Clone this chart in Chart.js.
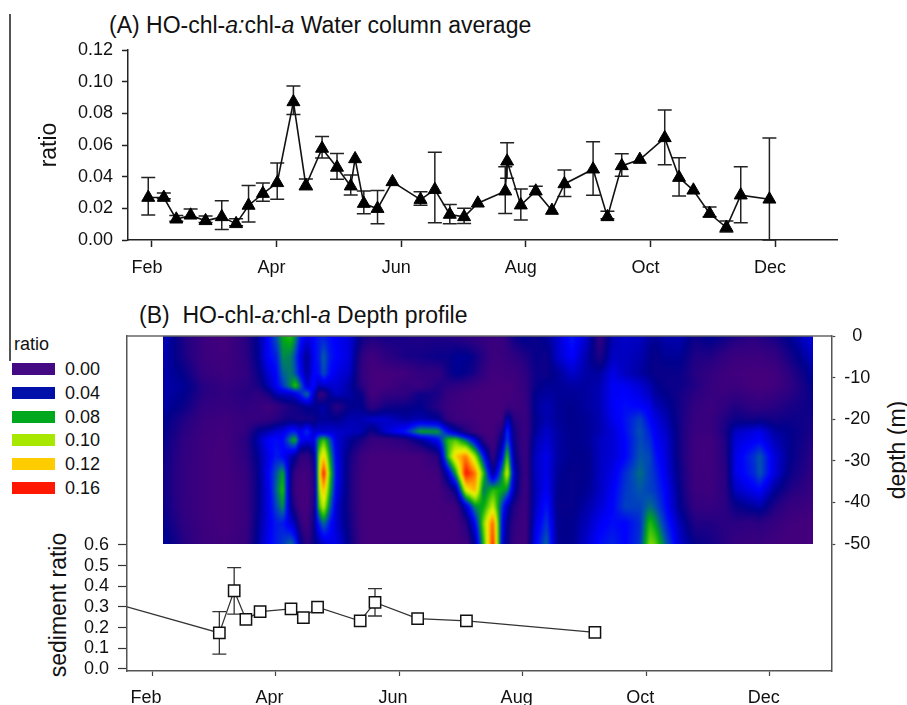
<!DOCTYPE html>
<html>
<head>
<meta charset="utf-8">
<script src="https://cdn.jsdelivr.net/npm/chart.js@4"></script>
<style>
  html, body { margin: 0; padding: 0; background: #fff; }
  body { position: relative; width: 907px; height: 705px; overflow: hidden; font-family: "Liberation Sans", Arial, sans-serif; color: #111; }
  canvas { position: absolute; left: 0; }
  .txt { position: absolute; white-space: pre; }
  .panel-title { font-size: 23px; line-height: 26px; }
  .side { text-align: center; font-size: 23px; line-height: 26px; transform: rotate(-90deg); }
  #rule { position: absolute; left: 9px; top: 14px; width: 1.5px; height: 347px; background: #555; }
  .swatch { position: absolute; left: 12px; width: 43px; height: 12px; }
  .key { position: absolute; left: 65px; font-size: 18px; line-height: 20px; }
</style>
</head>
<body>
<div id="rule"></div>
<div class="txt panel-title" style="left:109px;top:12px">(A) HO-chl-<i>a:</i>chl-<i>a</i> Water column average</div>
<div class="txt panel-title" style="left:139px;top:302px">(B)  HO-chl-<i>a:</i>chl-<i>a</i> Depth profile</div>
<div class="txt" style="left:14px;top:334px;font-size:18px;line-height:20px">ratio</div>
<div class="txt side" style="left:847px;top:437px;width:100px">depth (m)</div>
<div class="txt side" style="left:-17px;top:592px;width:150px">sediment ratio</div>
<div id="legend"></div>
<canvas id="waterChart" width="907" height="300" style="top:0"></canvas>
<canvas id="depthChart" width="907" height="405" style="top:300px"></canvas>

<script>
// month number on x axis (2 = Feb, 4 = Apr ...)
var monthTicks = [2, 4, 6, 8, 10, 12];
var monthNames = ['Feb', 'Apr', 'Jun', 'Aug', 'Oct', 'Dec'];

// panel A: water column average
var waterMonths = [1.94, 2.19, 2.39, 2.62, 2.86, 3.12, 3.35, 3.55, 3.78, 4.01, 4.27, 4.47, 4.73, 4.97, 5.19, 5.26, 5.40, 5.62, 5.86, 6.31, 6.54, 6.78, 7.01, 7.23, 7.67, 7.70, 7.92, 8.16, 8.42, 8.62, 9.08, 9.31, 9.54, 9.83, 10.23, 10.46, 10.69, 10.95, 11.22, 11.45, 11.91];
var waterRatio = [0.0268, 0.0268, 0.0131, 0.0156, 0.0121, 0.0146, 0.0102, 0.0218, 0.0293, 0.0361, 0.0872, 0.0344, 0.0578, 0.0458, 0.034, 0.0512, 0.023, 0.0198, 0.0367, 0.0255, 0.0318, 0.0161, 0.0146, 0.0232, 0.0308, 0.0497, 0.022, 0.0308, 0.0186, 0.0354, 0.0447, 0.0146, 0.0468, 0.0508, 0.0645, 0.0394, 0.0314, 0.0167, 0.0079, 0.0283, 0.0257];
var waterHigh = [0.0394, 0.0297, 0.0155, 0.0196, 0.0152, 0.0248, 0.0135, 0.0345, 0.036, 0.0486, 0.0973, 0.0385, 0.0653, 0.0547, 0.041, null, 0.031, 0.0312, null, 0.0305, 0.0554, 0.0225, 0.02, null, 0.0463, 0.0615, 0.0322, 0.034, null, 0.0442, 0.0621, 0.0181, 0.0545, null, 0.0821, 0.052, null, 0.0208, 0.012, 0.0463, 0.0644];
var waterLow = [0.0158, 0.026, 0.0118, 0.014, 0.011, 0.0067, 0.009, 0.0114, 0.0244, 0.0257, 0.0792, 0.0318, 0.0518, 0.0383, 0.0284, null, 0.0166, 0.0103, null, 0.0219, 0.0109, 0.0103, 0.0105, null, 0.0168, 0.039, 0.0126, null, null, 0.0274, 0.0282, 0.0135, 0.0402, null, 0.0476, 0.0278, null, 0.0147, 0.005, 0.0109, 0];
var waterTicks = [0, 0.02, 0.04, 0.06, 0.08, 0.1, 0.12];

// panel B bottom: sediment ratio, first point is the line coming in from the axis
var sedMonths = [1.595, 3.09, 3.33, 3.52, 3.75, 4.25, 4.45, 4.68, 5.37, 5.61, 6.30, 7.09, 9.17];
var sedRatio = [0.30, 0.174, 0.378, 0.24, 0.277, 0.29, 0.248, 0.299, 0.232, 0.322, 0.243, 0.232, 0.177];
var sedHigh = [null, 0.277, 0.49, null, null, null, null, null, null, 0.388, null, null, null];
var sedLow = [null, 0.072, 0.265, null, null, null, null, null, null, 0.256, null, null, null];
var sedTicks = [0, 0.1, 0.2, 0.3, 0.4, 0.5, 0.6];

// panel B top: depth profile, ratio x 1000 read by eye, one list per column of heatMonths
var depthTicks = [0, -10, -20, -30, -40, -50];
var heatDepths = [0, -5, -9, -12, -14, -17, -20, -23, -25, -29, -33, -37, -41, -45, -50];
var heatMonths = [2.18, 2.53, 2.86, 3.18, 3.51, 3.72, 3.88, 4.01, 4.12, 4.25, 4.32, 4.40, 4.51, 4.62, 4.70, 4.78, 4.87, 4.99, 5.21, 5.40, 5.56, 5.77, 6.10, 6.34, 6.63, 6.79, 6.92, 7.08, 7.23, 7.37, 7.52, 7.67, 7.75, 7.86, 8.04, 8.20, 8.39, 8.57, 8.80, 9.06, 9.25, 9.45, 9.66, 9.90, 10.06, 10.14, 10.31, 10.55, 10.79, 11.03, 11.28, 11.44, 11.76, 11.84, 12.09, 12.33, 12.70];
var heatValues = [
  [38,36,34,34,34,33,30,28,27,25,24,24,25,28,32],
  [18,20,26,30,28,24,18,14,12,10,10,10,10,12,16],
  [5,5,8,15,14,10,6,4,3,3,3,3,3,4,5],
  [0,2,4,8,10,8,4,2,1,0,0,0,0,0,2],
  [15,12,10,14,16,12,8,10,14,12,8,6,6,6,8],
  [30,30,25,20,12,8,8,30,35,30,28,28,28,30,32],
  [50,50,42,35,20,3,10,35,50,45,48,45,45,45,48],
  [65,55,50,48,35,8,15,42,52,55,65,68,62,55,55],
  [80,75,68,60,38,15,20,45,50,50,80,86,76,55,60],
  [85,72,72,75,40,20,22,55,75,35,25,22,28,42,70],
  [75,62,65,88,42,22,22,55,82,30,8,5,15,35,60],
  [55,45,50,70,55,25,20,45,50,12,2,0,0,12,30],
  [45,28,30,40,72,30,22,60,45,10,2,0,0,2,12],
  [50,50,50,52,40,30,22,40,45,25,15,12,18,25,25],
  [55,55,52,35,12,30,30,42,75,95,100,95,85,55,32],
  [55,68,65,40,10,35,30,40,88,120,155,125,105,70,40],
  [52,55,52,40,30,25,30,42,68,82,92,85,72,55,45],
  [48,50,45,42,38,14,28,40,42,45,48,45,40,40,45],
  [42,42,38,32,32,28,35,38,30,22,20,20,20,22,25],
  [25,12,10,15,25,28,35,35,20,4,2,2,2,2,3],
  [20,2,0,0,0,12,40,22,8,0,0,0,0,0,0],
  [22,12,0,0,10,22,40,40,8,0,0,0,0,0,0],
  [20,20,2,10,12,25,32,55,15,0,0,0,0,0,0],
  [18,22,10,6,24,28,35,80,30,0,0,0,0,0,0],
  [18,25,10,18,20,15,30,78,50,15,2,0,0,0,0],
  [18,25,22,15,8,5,10,50,85,85,40,12,2,0,0],
  [15,30,30,12,5,3,5,35,90,120,80,30,3,0,0],
  [12,30,26,10,2,2,3,18,70,135,155,110,40,15,3],
  [10,24,20,5,0,0,2,6,45,100,135,125,75,50,30],
  [8,15,10,2,0,0,0,0,12,55,85,70,80,95,85],
  [6,5,2,0,0,0,0,0,0,8,28,85,105,140,150],
  [8,6,3,0,0,0,2,20,30,50,75,80,60,50,45],
  [15,8,5,0,0,5,40,60,65,90,110,75,38,28,25],
  [25,12,4,2,2,4,15,22,24,30,40,35,18,12,8],
  [30,18,12,10,8,6,6,5,5,5,5,4,3,2,2],
  [25,26,24,25,28,30,28,30,34,38,38,36,38,42,48],
  [30,24,24,30,32,36,35,40,42,46,46,48,54,60,68],
  [40,40,30,30,30,30,30,32,32,32,30,28,26,28,28],
  [55,50,40,32,30,28,28,28,28,28,26,26,26,28,28],
  [38,32,32,32,32,32,30,30,30,28,28,30,34,38,42],
  [10,18,32,35,36,36,35,35,38,38,38,38,42,48,52],
  [35,38,45,48,48,48,46,42,42,42,45,48,50,52,56],
  [40,38,38,48,50,52,53,52,50,50,58,60,62,50,50],
  [38,35,32,42,45,50,62,65,64,66,70,66,62,58,60],
  [32,28,28,35,38,46,50,55,58,63,62,62,70,85,95],
  [30,25,25,30,32,38,45,48,50,54,58,60,66,78,92],
  [34,30,25,25,28,32,36,40,42,44,46,50,52,58,68],
  [35,30,25,24,22,22,22,22,22,22,24,26,28,35,40],
  [25,18,16,18,14,10,8,6,5,4,4,5,10,18,26],
  [30,18,10,8,8,5,6,6,2,2,3,4,8,18,22],
  [25,10,4,4,6,12,18,20,18,16,14,14,14,14,15],
  [20,5,2,5,10,18,24,38,42,45,45,38,25,14,8],
  [15,5,0,0,5,12,22,45,48,60,58,48,32,12,5],
  [18,4,0,0,4,12,24,46,50,66,66,50,34,14,6],
  [22,10,2,2,8,15,22,32,36,42,42,30,18,8,2],
  [30,22,14,12,15,20,24,28,28,28,25,18,8,2,0],
  [45,38,32,28,26,25,22,20,18,14,12,8,4,0,0]
];

// colour key
var keyLabels = ['0.00', '0.04', '0.08', '0.10', '0.12', '0.16'];
var keyColors = ['#440a84', '#0010a8', '#00a81e', '#a8e800', '#ffcc00', '#ff1800'];

// colour ramp of the contour plot: value (x 1000), r, g, b
var ramp = [
  [0, 68, 0, 124], [15, 40, 0, 130], [28, 0, 0, 140], [50, 0, 0, 255], [65, 0, 80, 176],
  [80, 0, 170, 16], [100, 168, 232, 0], [112, 240, 240, 0], [125, 255, 176, 0], [150, 255, 32, 0]
];

var legendEl = document.getElementById('legend');
keyLabels.forEach(function (label, i) {
  var top = 363 + i * 23.8;
  legendEl.innerHTML += '<div class="swatch" style="top:' + top + 'px;background:' + keyColors[i] + '"></div>' +
    '<div class="key" style="top:' + (top - 4) + 'px">' + label + '</div>';
});

function rampColor(v) {
  for (var i = 1; i < ramp.length; i++) {
    if (v <= ramp[i][0]) {
      var a = ramp[i - 1], b = ramp[i], t = (v - a[0]) / (b[0] - a[0]);
      return [a[1] + (b[1] - a[1]) * t, a[2] + (b[2] - a[2]) * t, a[3] + (b[3] - a[3]) * t];
    }
  }
  return ramp[ramp.length - 1].slice(1);
}

// index of the interval holding v, plus the fraction across it
function locate(list, v, descending) {
  for (var i = 0; i < list.length - 2; i++) {
    if (descending ? v >= list[i + 1] : v <= list[i + 1]) break;
  }
  var t = (v - list[i]) / (list[i + 1] - list[i]);
  return [i, Math.max(0, Math.min(1, t))];
}

var heatPlugin = {
  id: 'heat',
  beforeDatasetsDraw: function (chart) {
    var xs = chart.scales.x, ys = chart.scales.depth, ctx = chart.ctx;
    var x0 = Math.round(xs.getPixelForValue(heatMonths[0]));
    var x1 = Math.round(xs.getPixelForValue(heatMonths[heatMonths.length - 1]));
    var y0 = Math.round(ys.getPixelForValue(heatDepths[0]));
    var y1 = Math.round(ys.getPixelForValue(heatDepths[heatDepths.length - 1]));
    var w = x1 - x0, h = y1 - y0;
    var off = document.createElement('canvas');
    off.width = w; off.height = h;
    var octx = off.getContext('2d');
    var img = octx.createImageData(w, h);
    for (var py = 0; py < h; py++) {
      var dy = locate(heatDepths, ys.getValueForPixel(y0 + py + 0.5), true);
      for (var px = 0; px < w; px++) {
        var dx = locate(heatMonths, xs.getValueForPixel(x0 + px + 0.5), false);
        var a = heatValues[dx[0]], b = heatValues[dx[0] + 1];
        var left = a[dy[0]] + (a[dy[0] + 1] - a[dy[0]]) * dy[1];
        var right = b[dy[0]] + (b[dy[0] + 1] - b[dy[0]]) * dy[1];
        var c = rampColor(left + (right - left) * dx[1]);
        var k = (py * w + px) * 4;
        img.data[k] = c[0]; img.data[k + 1] = c[1]; img.data[k + 2] = c[2]; img.data[k + 3] = 255;
      }
    }
    octx.putImageData(img, 0, 0);
    // plain copy first so the soft pass keeps a clean edge
    ctx.drawImage(off, x0, y0);
    ctx.save();
    ctx.beginPath();
    ctx.rect(x0, y0, w, h);
    ctx.clip();
    ctx.filter = 'blur(1.2px)';
    ctx.drawImage(off, x0, y0);
    ctx.restore();
  },
  afterDraw: function (chart) {
    // frame line along the top of the panel
    var area = chart.chartArea, ctx = chart.ctx;
    ctx.save();
    ctx.strokeStyle = '#666';
    ctx.lineWidth = 1.5;
    ctx.beginPath();
    ctx.moveTo(area.left, area.top);
    ctx.lineTo(area.right, area.top);
    ctx.stroke();
    ctx.restore();
  }
};

// error bars with caps, drawn under the points
function errorBars(id, xList, mids, highs, lows, yScale, cap, color, width) {
  return {
    id: id,
    beforeDatasetsDraw: function (chart) {
      var ctx = chart.ctx, xs = chart.scales.x, ys = chart.scales[yScale];
      ctx.save();
      ctx.strokeStyle = color;
      ctx.lineWidth = width;
      ctx.beginPath();
      xList.forEach(function (m, i) {
        var x = xs.getPixelForValue(m);
        [highs[i], lows[i]].forEach(function (v) {
          if (v === null) return;
          var y = ys.getPixelForValue(v);
          ctx.moveTo(x, ys.getPixelForValue(mids[i]));
          ctx.lineTo(x, y);
          ctx.moveTo(x - cap, y);
          ctx.lineTo(x + cap, y);
        });
      });
      ctx.stroke();
      ctx.restore();
    }
  };
}

var font18 = { family: '"Liberation Sans", Arial, sans-serif', size: 18 };
var font23 = { family: '"Liberation Sans", Arial, sans-serif', size: 23 };

function pickTicks(list) {
  return function (scale) {
    scale.ticks = list.map(function (v) { return { value: v }; });
  };
}
function monthLabel(v) {
  return monthNames[monthTicks.indexOf(v)];
}

new Chart(document.getElementById('waterChart').getContext('2d'), {
  type: 'line',
  data: {
    datasets: [{
      data: waterMonths.map(function (m, i) { return { x: m, y: waterRatio[i] }; }),
      borderColor: '#111',
      borderWidth: 1.6,
      pointStyle: 'triangle',
      pointRadius: 7.5,
      pointBackgroundColor: '#000',
      pointBorderColor: '#000',
      pointBorderWidth: 1,
      tension: 0,
      clip: false
    }]
  },
  options: {
    responsive: false,
    animation: false,
    events: [],
    layout: { padding: { left: 36, right: 70, top: 50, bottom: 0 } },
    plugins: { legend: { display: false }, tooltip: { enabled: false } },
    scales: {
      x: {
        type: 'linear',
        min: 1.615,
        max: 12.995,
        afterBuildTicks: pickTicks(monthTicks),
        afterFit: function (s) { s.height = 60; },
        border: { color: '#222', width: 1.5 },
        grid: { drawOnChartArea: false, tickLength: 7, tickColor: '#222', tickWidth: 1.5 },
        ticks: { font: font18, color: '#111', padding: 10, labelOffset: -5, maxRotation: 0, autoSkip: false, callback: monthLabel }
      },
      y: {
        min: 0,
        max: 0.12,
        afterBuildTicks: pickTicks(waterTicks),
        afterFit: function (s) { s.width = 92; },
        border: { color: '#222', width: 1.5 },
        grid: { drawOnChartArea: false, tickLength: 6, tickColor: '#222', tickWidth: 1.5 },
        title: { display: true, text: 'ratio', font: font23, color: '#111', padding: 0 },
        ticks: { font: font18, color: '#111', padding: 9, autoSkip: false, callback: function (v) { return v.toFixed(2); } }
      }
    }
  },
  plugins: [errorBars('waterBars', waterMonths, waterRatio, waterHigh, waterLow, 'y', 7, '#222', 1.5)]
});

new Chart(document.getElementById('depthChart').getContext('2d'), {
  type: 'line',
  data: {
    datasets: [{
      yAxisID: 'y',
      data: sedMonths.map(function (m, i) { return { x: m, y: sedRatio[i] }; }),
      borderColor: '#333',
      borderWidth: 1.2,
      pointStyle: 'rect',
      pointRadius: function (c) { return c.dataIndex === 0 ? 0 : 8; },
      pointBackgroundColor: '#fff',
      pointBorderColor: '#111',
      pointBorderWidth: 1.5,
      tension: 0
    }]
  },
  options: {
    responsive: false,
    animation: false,
    events: [],
    layout: { padding: { left: 46, right: 15.7, top: 36, bottom: 0 } },
    plugins: { legend: { display: false }, tooltip: { enabled: false } },
    scales: {
      x: {
        type: 'linear',
        min: 1.595,
        max: 12.997,
        afterBuildTicks: pickTicks(monthTicks),
        afterFit: function (s) { s.height = 34; },
        border: { color: '#555', width: 1.5 },
        grid: { drawOnChartArea: false, tickLength: 5, tickColor: '#444', tickWidth: 1.2 },
        ticks: { font: font18, color: '#111', padding: 11, labelOffset: -6, maxRotation: 0, autoSkip: false, callback: monthLabel }
      },
      y: {
        position: 'left',
        min: -0.01,
        max: 1.61,
        afterBuildTicks: pickTicks(sedTicks),
        afterFit: function (s) { s.width = 81; },
        border: { color: '#555', width: 1.5 },
        grid: { drawOnChartArea: false, tickLength: 9, tickColor: '#333', tickWidth: 1.2 },
        ticks: { font: font18, color: '#111', padding: 9, autoSkip: false, callback: function (v) { return v.toFixed(1); } }
      },
      depth: {
        position: 'right',
        min: -80.5,
        max: 0,
        afterBuildTicks: pickTicks(depthTicks),
        afterFit: function (s) { s.width = 60; },
        border: { color: '#555', width: 1.5 },
        grid: { drawOnChartArea: false, tickLength: 4, tickColor: '#444', tickWidth: 1.2 },
        ticks: { font: font18, color: '#111', padding: 9, crossAlign: 'center', autoSkip: false, callback: function (v) { return String(v); } }
      }
    }
  },
  plugins: [heatPlugin, errorBars('sedBars', sedMonths, sedRatio, sedHigh, sedLow, 'y', 7, '#333', 1.3)]
});
</script>
</body>
</html>
